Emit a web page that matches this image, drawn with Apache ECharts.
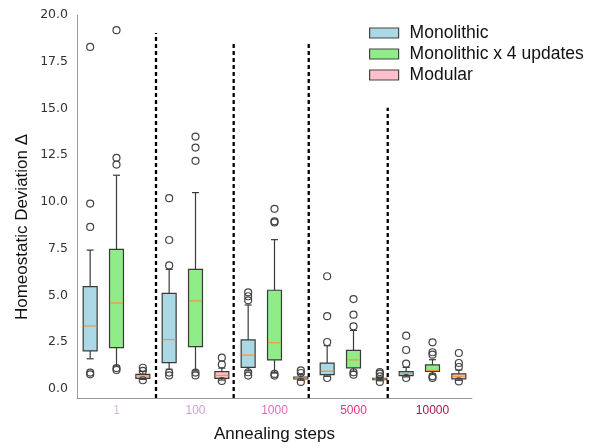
<!DOCTYPE html>
<html>
<head>
<meta charset="utf-8">
<style>
  html, body { margin: 0; padding: 0; background: #fff; }
  #chart { width: 589px; height: 448px; }
</style>
<script src="https://cdn.jsdelivr.net/npm/echarts@6/dist/echarts.min.js"></script>
</head>
<body>
<div id="chart"></div>
<script>
// Annealing step groups along the x axis
const steps = ['1', '100', '1000', '5000', '10000'];
const stepColors = ['#d6b8dc', '#d0a0d6', '#de6cbc', '#e5327f', '#a5164f'];
const yTicks = [0, 2.5, 5, 7.5, 10, 12.5, 15, 17.5, 20];

// Five-number summaries [min, q1, median, q3, max] per annealing step
const monoStats = [
  [1.6, 2.02, 3.36, 5.46, 7.42],
  [1.04, 1.39, 2.63, 5.1, 6.39],
  [0.96, 1.14, 1.8, 2.61, 4.48],
  [0.66, 0.75, 0.93, 1.37, 2.3],
  [0.63, 0.7, 0.8, 0.91, 1.14]
];
const monoOutliers = [
  [0.77, 0.86, 8.66, 9.91, 18.3],
  [0.71, 0.86, 6.6, 7.96, 10.2],
  [0.7, 0.88, 4.73, 4.95, 5.16],
  [0.57, 2.5, 3.88, 6.02],
  [0.57, 1.34, 2.07, 2.84]
];
const quadStats = [
  [1.21, 2.2, 4.59, 7.46, 11.43],
  [0.95, 2.25, 4.7, 6.39, 10.5],
  [0.84, 1.54, 2.46, 5.27, 7.98],
  [0.93, 1.11, 1.54, 2.05, 3.12],
  [0.79, 0.93, 0.98, 1.27, 1.55]
];
const quadOutliers = [
  [1.0, 1.1, 12.0, 12.36, 19.2],
  [0.71, 0.86, 12.2, 12.91, 13.5],
  [0.7, 0.79, 8.9, 8.96, 9.63],
  [0.75, 0.88, 3.34, 3.96, 4.8],
  [0.57, 0.66, 1.82, 1.95, 2.48]
];
const modStats = [
  [0.5, 0.55, 0.68, 0.77, 0.92],
  [0.46, 0.55, 0.71, 0.91, 1.1],
  [0.45, 0.52, 0.57, 0.62, 0.75],
  [0.42, 0.48, 0.52, 0.55, 0.6],
  [0.45, 0.52, 0.66, 0.79, 1.0]
];
const modOutliers = [
  [0.45, 0.95, 1.12],
  [0.41, 1.3, 1.66],
  [0.36, 0.84, 0.98],
  [0.36, 0.66, 0.8, 0.89],
  [0.39, 1.16, 1.375, 1.91]
];

// Dashed separators between step groups (x in box-slot units, top in data units)
const sepPos = [3.0, 5.95, 8.8, 11.8];
const sepTop = [19.05, 18.55, 18.55, 15.05];

const Y_MIN = -0.5;
const Y_MAX = 20;

const groups = [
  { name: 'Monolithic', stats: monoStats, outliers: monoOutliers, fill: '#aad8e4' },
  { name: 'Monolithic x 4 updates', stats: quadStats, outliers: quadOutliers, fill: '#8fec88' },
  { name: 'Modular', stats: modStats, outliers: modOutliers, fill: '#ffc0cb' }
];

const nSlots = steps.length * groups.length;
const slotNames = [];
for (let i = 0; i < nSlots; i++) slotNames.push('s' + i);

const lineColor = '#3a3a3a';
const medianColor = '#f39a3c';

function renderBox(params, api) {
  const k = api.value(0);
  const lo = api.coord([k, api.value(1)]);
  const q1 = api.coord([k, api.value(2)]);
  const md = api.coord([k, api.value(3)]);
  const q3 = api.coord([k, api.value(4)]);
  const hi = api.coord([k, api.value(5)]);
  const band = api.size([1, 0])[0];
  const w = band * 0.53;
  const cap = w / 4;
  const cx = lo[0];
  const lineStyle = { stroke: lineColor, lineWidth: 1.2 };
  return {
    type: 'group',
    children: [
      { type: 'line', shape: { x1: cx, y1: lo[1], x2: cx, y2: q1[1] }, style: lineStyle },
      { type: 'line', shape: { x1: cx, y1: q3[1], x2: cx, y2: hi[1] }, style: lineStyle },
      { type: 'line', shape: { x1: cx - cap, y1: lo[1], x2: cx + cap, y2: lo[1] }, style: lineStyle },
      { type: 'line', shape: { x1: cx - cap, y1: hi[1], x2: cx + cap, y2: hi[1] }, style: lineStyle },
      {
        type: 'rect',
        shape: { x: cx - w / 2, y: q3[1], width: w, height: q1[1] - q3[1] },
        style: { fill: api.visual('color'), stroke: lineColor, lineWidth: 1.2 }
      },
      {
        type: 'line',
        shape: { x1: cx - w / 2 + 0.6, y1: md[1], x2: cx + w / 2 - 0.6, y2: md[1] },
        style: { stroke: medianColor, lineWidth: 1.3 }
      }
    ]
  };
}

const series = [];

sepPos.forEach(function (p, i) {
  series.push({
    type: 'line',
    xAxisIndex: 2,
    yAxisIndex: 0,
    silent: true,
    symbol: 'none',
    lineStyle: { color: '#000', width: 2.3, type: [4, 3] },
    data: [[p, Y_MIN], [p, sepTop[i]]],
    z: 1
  });
});

groups.forEach(function (g, gi) {
  const boxData = g.stats.map(function (s, si) {
    return [si * groups.length + gi].concat(s);
  });
  const outData = [];
  g.outliers.forEach(function (list, si) {
    list.forEach(function (v) { outData.push([si * groups.length + gi, v]); });
  });
  series.push({
    name: g.name,
    type: 'custom',
    xAxisIndex: 0,
    yAxisIndex: 0,
    renderItem: renderBox,
    itemStyle: { color: g.fill, borderColor: lineColor },
    encode: { x: 0, y: [1, 2, 3, 4, 5] },
    data: boxData,
    z: 3
  });
  series.push({
    name: g.name,
    type: 'scatter',
    xAxisIndex: 0,
    yAxisIndex: 0,
    symbol: 'circle',
    symbolSize: 7,
    itemStyle: { color: 'rgba(255,255,255,0)', borderColor: '#444', borderWidth: 1.2, opacity: 1 },
    data: outData,
    z: 4
  });
});

const richLabels = {};
stepColors.forEach(function (c, i) {
  richLabels['c' + i] = { color: c, fontSize: 12, fontFamily: 'Liberation Sans' };
});

const option = {
  backgroundColor: '#fff',
  animation: false,
  grid: {
    left: 77, right: 117, top: 15.2, bottom: 50,
    containLabel: false, outerBoundsMode: 'none'
  },
  legend: {
    orient: 'vertical',
    left: 364,
    top: 18,
    itemWidth: 29,
    itemHeight: 10,
    itemGap: 1,
    icon: 'rect',
    selectedMode: false,
    textStyle: {
      fontFamily: 'Liberation Sans', fontSize: 17.5, color: '#111',
      lineHeight: 20, padding: [0, 0, 0, 6]
    },
    data: groups.map(function (g) {
      return { name: g.name, itemStyle: { color: g.fill, borderColor: '#444', borderWidth: 1.2 } };
    })
  },
  xAxis: [
    {
      type: 'category', data: slotNames, gridIndex: 0, position: 'bottom',
      show: false, boundaryGap: true
    },
    {
      type: 'category', data: steps, gridIndex: 0, position: 'bottom',
      boundaryGap: true,
      axisLine: { lineStyle: { color: '#9a9a9a', width: 1 } },
      axisTick: { show: false },
      axisLabel: {
        margin: 7,
        formatter: function (v, i) { return '{c' + i + '|' + v + '}'; },
        rich: richLabels
      },
      splitLine: { show: false },
      name: 'Annealing steps',
      nameLocation: 'middle',
      nameGap: 28,
      nameTextStyle: { fontFamily: 'Liberation Sans', fontSize: 17, color: '#111' }
    },
    {
      type: 'value', min: 0, max: nSlots, gridIndex: 0, position: 'bottom', show: false
    }
  ],
  yAxis: [
    {
      type: 'value', min: Y_MIN, max: Y_MAX,
      axisLine: { show: true, lineStyle: { color: '#9a9a9a', width: 1 } },
      axisTick: { show: false },
      splitLine: { show: false },
      axisLabel: {
        customValues: yTicks,
        margin: 9,
        fontFamily: 'DejaVu Sans',
        fontSize: 12.5,
        color: '#333',
        formatter: function (v) { return Number(v).toFixed(1); }
      }
    }
  ],
  graphic: [
    {
      type: 'text',
      x: 22,
      y: 227,
      rotation: Math.PI / 2,
      style: {
        text: 'Homeostatic Deviation Δ',
        font: '17px "Liberation Sans"',
        fill: '#111',
        textAlign: 'center',
        textVerticalAlign: 'middle'
      }
    }
  ],
  series: series
};

const chart = echarts.init(document.getElementById('chart'), null, { renderer: 'canvas' });
chart.setOption(option);
</script>
</body>
</html>
